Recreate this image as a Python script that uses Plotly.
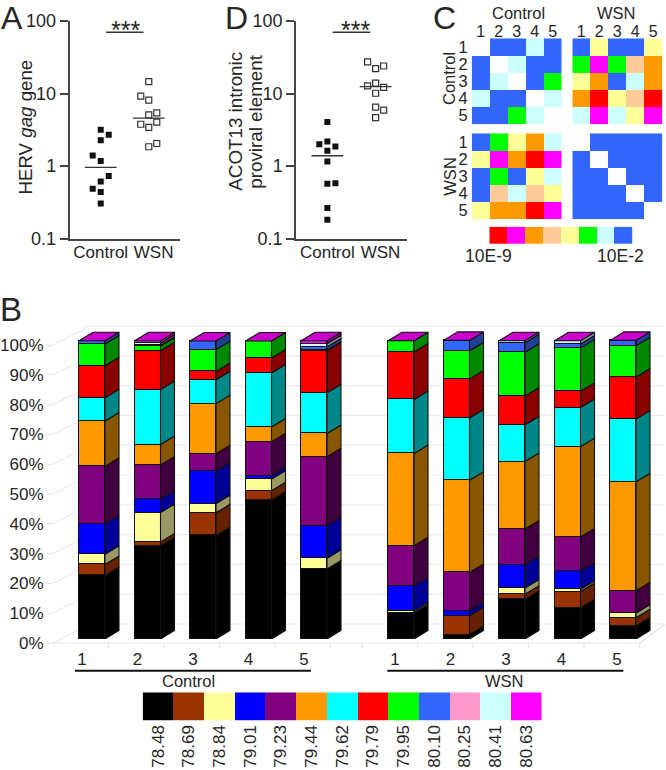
import plotly.graph_objects as go

W, H = 666, 770
FONT = "Liberation Sans"
INK = "#262626"

# ---------- panel A / D data ----------
A_control = [3.16, 2.70, 2.28, 1.40, 1.18, 0.73, 0.615, 0.488, 0.439, 0.306]
A_control_jit = [0, 1, 0, -1, 0, 1, 0, -1, 0, 0]
A_wsn = [14.6, 9.2, 8.1, 5.42, 5.09, 3.78, 4.03, 3.41, 2.05, 1.85]
A_wsn_jit = [0, -1, 0, 1, 0, -1, 1, 0, 1, 0]
A_means = [0.96, 4.58]
D_control = [4.07, 2.18, 2.01, 1.87, 1.63, 1.16, 0.583, 0.571, 0.264, 0.183]
D_control_jit = [0, 0, -1, 1, 0, 0, 1, 0, 0, 0]
D_wsn = [27.3, 24.0, 22.1, 13.9, 12.8, 12.2, 10.1, 6.49, 5.9, 4.67]
D_wsn_jit = [-1, 1, 0, 0, -1, 1, 0, 0, 1, 0]
D_means = [1.39, 12.5]
sig_level = 69.8
log_ticks = [0.1, 1, 10, 100]
log_ticktext = ["0.1", "1", "10", "100"]

# ---------- panel C data (index into C_colors, None = blank diagonal) ----------
C_colors = ["#FF0000", "#FF00FF", "#FF9900", "#FFCC99", "#FFFF99", "#00FF00", "#CCFFFF", "#3366FF"]
R, M, O, E, Y, G, P, B, N = 0, 1, 2, 3, 4, 5, 6, 7, None
C_cc = [[N, B, B, P, B], [B, N, P, B, B], [B, P, N, B, G], [P, B, B, N, P], [B, B, G, P, N]]
C_cw = [[B, Y, B, B, Y], [G, M, G, E, O], [Y, O, B, P, O], [O, R, Y, E, R], [P, M, P, Y, M]]
C_wc = [[B, G, Y, O, P], [Y, M, O, R, M], [B, G, B, Y, P], [B, E, P, E, Y], [Y, O, O, R, M]]
C_ww = [[N, B, B, B, B], [B, N, B, B, B], [B, B, N, B, B], [B, B, B, N, B], [B, B, B, B, N]]
samples = ["1", "2", "3", "4", "5"]
C_scale_idx = [0, 1, 2, 3, 4, 5, 6, 7]

# ---------- panel B data: % per melting temperature, per sample ----------
temps = ["78.48", "78.69", "78.84", "79.01", "79.23", "79.44", "79.62",
         "79.79", "79.95", "80.10", "80.25", "80.41", "80.63"]
front_colors = ["#000000", "#993300", "#FFFF99", "#0000FF", "#800080", "#FF9900", "#00FFFF",
                "#FF0000", "#00FF00", "#3366FF", "#FF99CC", "#CCFFFF", "#FF00FF"]
side_colors = ["#000000", "#662200", "#999966", "#000099", "#400040", "#885500", "#008888",
               "#880000", "#008800", "#1F3F99", "#996080", "#80A0A0", "#990099"]
top_color = "#CC00CC"
control_rows = [
    [21.3, 3.7, 3.4, 10.2, 19.3, 15.2, 7.8, 10.7, 7.3, 1.1, 0, 0, 0],
    [31.3, 1.2, 9.9, 4.5, 11.4, 6.9, 18.4, 13.0, 1.6, 0.3, 0, 0.6, 0.9],
    [34.7, 7.6, 3.1, 10.9, 5.8, 16.8, 8.0, 2.8, 7.3, 2.9, 0, 0, 0],
    [46.6, 3.1, 3.9, 1.2, 11.3, 5.0, 18.1, 5.0, 5.7, 0, 0, 0, 0],
    [23.5, 0, 3.6, 10.9, 23.1, 7.8, 13.6, 14.1, 0.2, 1.1, 0, 1.1, 1.0],
]
wsn_rows = [
    [8.8, 0, 0.6, 8.4, 13.5, 30.9, 18.1, 15.9, 3.8, 0, 0, 0, 0],
    [1.5, 6.3, 0, 1.7, 12.8, 30.9, 20.9, 13.1, 9.4, 3.5, 0, 0, 0],
    [13.3, 1.7, 2.1, 7.8, 12.0, 22.6, 12.3, 9.7, 14.6, 3.2, 0, 0.7, 0],
    [10.5, 5.4, 0.8, 6.1, 11.4, 30.3, 13.1, 5.5, 14.5, 1.3, 0, 1.1, 0],
    [4.4, 2.7, 1.6, 0, 7.5, 36.5, 21.0, 14.1, 10.5, 1.8, 0, 0, 0],
]
pct_ticks = list(range(0, 101, 10))


def hdom(a, b):
    return [a / W, b / W]


def vdom(top, bottom):
    return [1 - bottom / H, 1 - top / H]


def px(x):
    return x / W


def py(y):
    return 1 - y / H


fig = go.Figure()
layout = {}
text_font = dict(family=FONT, size=17, color=INK)


# ---------- dot plots ----------
def dot_panel(n, left, right, control, cjit, wsn, wjit, means, bar_half):
    sx = "" if n == 1 else str(n)
    xref, yref = "x" + sx, "y" + sx
    # 48 px between group centres, 8 px jitter step
    step = 8 / 48
    fig.add_trace(go.Scatter(x=[1 + j * step for j in cjit], y=control, xaxis=xref, yaxis=yref, mode="markers",
                             marker=dict(symbol="square", size=6, color="#111111"), hoverinfo="skip"))
    fig.add_trace(go.Scatter(x=[2 + j * step for j in wjit], y=wsn, xaxis=xref, yaxis=yref, mode="markers",
                             marker=dict(symbol="square-open", size=6, color="#333333", line=dict(width=1.2)),
                             hoverinfo="skip"))
    for c, m in zip([1, 2], means):
        fig.add_trace(go.Scatter(x=[c - 0.33, c + 0.33], y=[m, m], xaxis=xref, yaxis=yref, mode="lines",
                                 line=dict(color="#333333", width=1.3), hoverinfo="skip"))
    fig.add_trace(go.Scatter(x=[1.5 - bar_half, 1.5 + bar_half], y=[sig_level, sig_level], xaxis=xref, yaxis=yref,
                             mode="lines", line=dict(color="#333333", width=1.5), hoverinfo="skip"))
    layout["xaxis" + sx] = dict(domain=hdom(left, right), range=[0.35, 2.65], showgrid=False, zeroline=False,
                                showline=True, linecolor="#444444", linewidth=1.5, ticks="",
                                tickvals=[1, 2.1], ticktext=["Control", "WSN"], tickfont=text_font,
                                ticklabelstandoff=-3, anchor=yref)
    layout["yaxis" + sx] = dict(domain=vdom(21, 238.7), type="log", range=[-1, 2], showgrid=False, zeroline=False,
                                showline=True, linecolor="#444444", linewidth=1.5, ticks="outside", ticklen=8,
                                tickwidth=1.5, tickcolor="#444444", tickvals=log_ticks, ticktext=log_ticktext,
                                tickfont=dict(family=FONT, size=18, color=INK), anchor=xref)


dot_panel(1, 69.5, 180, A_control, A_control_jit, A_wsn, A_wsn_jit, A_means, 0.39)
dot_panel(2, 296, 407, D_control, D_control_jit, D_wsn, D_wsn_jit, D_means, 0.39)

# ---------- heatmaps ----------
cs = []
nc = len(C_colors)
for i, c in enumerate(C_colors):
    cs += [[i / nc, c], [(i + 1) / nc, c]]


def heat(n, z, left, top, show_x, show_y):
    s = str(n)
    fig.add_trace(go.Heatmap(z=z, x=samples, y=samples, xaxis="x" + s, yaxis="y" + s, colorscale=cs,
                             zmin=-0.5, zmax=nc - 0.5, showscale=False, hoverinfo="skip"))
    layout["xaxis" + s] = dict(domain=hdom(left, left + 90), side="top", showgrid=False, zeroline=False, ticks="",
                               showticklabels=show_x, tickfont=dict(family=FONT, size=16, color=INK),
                               tickmode="array", tickvals=samples, ticktext=samples, ticklabelstandoff=-3,
                               anchor="y" + s, type="category")
    layout["yaxis" + s] = dict(domain=vdom(top, top + 86), autorange="reversed", showgrid=False, zeroline=False,
                               ticks="", showticklabels=show_y, tickfont=dict(family=FONT, size=16.5, color=INK),
                               tickmode="array", tickvals=samples, ticktext=samples, ticklabelstandoff=3,
                               anchor="x" + s, type="category")


heat(3, C_cc, 471.7, 38.3, True, True)
heat(4, C_cw, 572.3, 38.3, True, False)
heat(5, C_wc, 471.7, 133.3, False, True)
heat(6, C_ww, 572.3, 133.3, False, False)

fig.add_trace(go.Heatmap(z=[C_scale_idx], xaxis="x7", yaxis="y7", colorscale=cs, zmin=-0.5, zmax=nc - 0.5,
                         showscale=False, hoverinfo="skip"))
layout["xaxis7"] = dict(domain=hdom(489.3, 632.7), visible=False, anchor="y7")
layout["yaxis7"] = dict(domain=vdom(226.7, 244), visible=False, anchor="x7")

# ---------- 3D-look stacked bars ----------
UNIT = 55.5          # px per sample
GAP = 1.568          # extra distance between the two groups, in samples
BAR_W = 26 / UNIT
SIDE_DX = 14 / UNIT
Y_SCALE = 298.3 / 100
SIDE_DY = 8.5 / Y_SCALE
WALL_DX = 37 / UNIT
WALL_DY = 19 / 2.98

rows = control_rows + wsn_rows
centers = [1 + i for i in range(5)] + [1 + i + 4 + GAP for i in range(5)]
x_left = 1 - 39 / UNIT
x_right = 1 + 573 / UNIT
x_floor_end = 1 + 548 / UNIT

# back wall
wall_x, wall_y = [], []
for v in pct_ticks:
    wall_x += [x_left, x_left + WALL_DX, x_right, None]
    wall_y += [v, v + WALL_DY, v + WALL_DY, None]
fig.add_trace(go.Scatter(x=wall_x, y=wall_y, xaxis="x8", yaxis="y8", mode="lines",
                         line=dict(color="#ECECEC", width=1.2), hoverinfo="skip"))
tick_pos = [x_left + i for i in range(6)] + [centers[5] - 39 / UNIT + i for i in range(6)]
tx, ty = [x_left, x_floor_end, x_right, None], [0, 0, WALL_DY, None]
for t in tick_pos:
    tx += [t, t, None]
    ty += [0, -1.6, None]
fig.add_trace(go.Scatter(x=tx, y=ty, xaxis="x8", yaxis="y8", mode="lines",
                         line=dict(color="#E4E4E4", width=1.2), hoverinfo="skip"))

# front faces
for s, name in enumerate(temps):
    fig.add_trace(go.Bar(x=centers, y=[r[s] for r in rows], width=BAR_W, xaxis="x8", yaxis="y9",
                         marker=dict(color=front_colors[s], line=dict(color="#111111", width=1.1)),
                         name=name, hoverinfo="skip"))

# side faces
for s, name in enumerate(temps):
    sx, sy = [], []
    for c, r in zip(centers, rows):
        if r[s] <= 0:
            continue
        y0 = sum(r[:s])
        y1 = y0 + r[s]
        xa = c + BAR_W / 2
        xb = xa + SIDE_DX
        sx += [xa, xb, xb, xa, xa, None]
        sy += [y0, y0 + SIDE_DY, y1 + SIDE_DY, y1, y0, None]
    if sx:
        fig.add_trace(go.Scatter(x=sx, y=sy, xaxis="x8", yaxis="y9", mode="lines", fill="toself",
                                 fillcolor=side_colors[s], line=dict(color="#111111", width=1.1), hoverinfo="skip"))

# top faces
tx, ty = [], []
for c, r in zip(centers, rows):
    top = sum(r)
    xa = c - BAR_W / 2
    xb = c + BAR_W / 2
    tx += [xa, xb, xb + SIDE_DX, xa + SIDE_DX, xa, None]
    ty += [top, top, top + SIDE_DY, top + SIDE_DY, top, None]
fig.add_trace(go.Scatter(x=tx, y=ty, xaxis="x8", yaxis="y9", mode="lines", fill="toself", fillcolor=top_color,
                         line=dict(color="#111111", width=1.1), hoverinfo="skip"))

label_positions = [c - 10 / UNIT for c in centers[:5]] + [c - 6 / UNIT for c in centers[5:]]
layout["xaxis8"] = dict(domain=hdom(53, 665), range=[x_left, x_right], showgrid=False, zeroline=False, showline=False,
                        ticks="", tickvals=label_positions, ticktext=samples + samples,
                        tickfont=dict(family=FONT, size=17, color=INK), tickangle=0, ticklabelstandoff=-3, anchor="y8")
y8_lo, y8_hi = -2.4, 107
layout["yaxis8"] = dict(domain=vdom(643 - y8_hi * 2.98, 643 - y8_lo * 2.98), range=[y8_lo, y8_hi], showgrid=False,
                        zeroline=False, showline=False, ticks="outside", ticklen=5, tickcolor="#E4E4E4",
                        tickvals=pct_ticks, ticktext=[f"{v}%" for v in pct_ticks],
                        tickfont=dict(family=FONT, size=17, color=INK), anchor="x8")
layout["yaxis9"] = dict(domain=vdom(330, 639), range=[0, 309 / Y_SCALE], visible=False, anchor="x8")

# colour key under B
fig.add_trace(go.Heatmap(z=[list(range(len(temps)))], x=temps, xaxis="x10", yaxis="y10",
                         colorscale=[v for i, c in enumerate(front_colors)
                                     for v in ([i / 13, c], [(i + 1) / 13, c])],
                         zmin=-0.5, zmax=12.5, showscale=False, hoverinfo="skip"))
layout["xaxis10"] = dict(domain=hdom(142.7, 541.7), type="category", showgrid=False, zeroline=False, ticks="",
                         tickangle=-90, tickfont=dict(family=FONT, size=17, color=INK), anchor="y10")
layout["yaxis10"] = dict(domain=vdom(692.3, 720.7), visible=False, anchor="x10")

# ---------- annotations ----------
ann = []


def label(text, x, y, size=17, angle=0, align="center"):
    ann.append(dict(text=text, x=px(x), y=py(y), xref="paper", yref="paper", showarrow=False,
                    font=dict(family=FONT, size=size, color=INK), textangle=angle,
                    xanchor="center", yanchor="middle", align=align))


label("A", 12, 18, 32)
label("D", 237, 18, 32)
label("C", 444, 18, 32)
label("B", 11, 309, 33)
label("***", 125.5, 30, 25)
label("***", 355, 30, 25)
label("HERV <i>gag</i> gene", 25, 127.5, 18.7, -90)
label("ACOT13 intronic", 236, 121.7, 18.8, -90)
label("proviral element", 256, 121.7, 18.8, -90)
label("Control", 518, 13, 16.5)
label("WSN", 616, 13, 16.5)
label("Control", 449, 79, 16.5, -90)
label("WSN", 450, 176.7, 16.5, -90)
label("10E-9", 488, 256, 17.5)
label("10E-2", 620, 256, 17.5)
label("Control", 188.5, 681, 16.5)
label("WSN", 504, 681, 16.5)

shapes = [
    dict(type="line", xref="paper", yref="paper", x0=px(75), x1=px(311), y0=py(670.7), y1=py(670.7),
         line=dict(color="#111111", width=2)),
    dict(type="line", xref="paper", yref="paper", x0=px(387.3), x1=px(623.3), y0=py(670.7), y1=py(670.7),
         line=dict(color="#111111", width=2)),
]

fig.update_layout(**layout)
fig.update_layout(template="none", width=W, height=H, margin=dict(l=0, r=0, t=0, b=0), autosize=False,
                  paper_bgcolor="white", plot_bgcolor="rgba(0,0,0,0)", showlegend=False, barmode="stack", bargap=0,
                  annotations=ann, shapes=shapes, font=dict(family=FONT, color=INK))
fig.write_html("out.html", post_script="document.body.style.margin='0';", config={"displayModeBar": False})
